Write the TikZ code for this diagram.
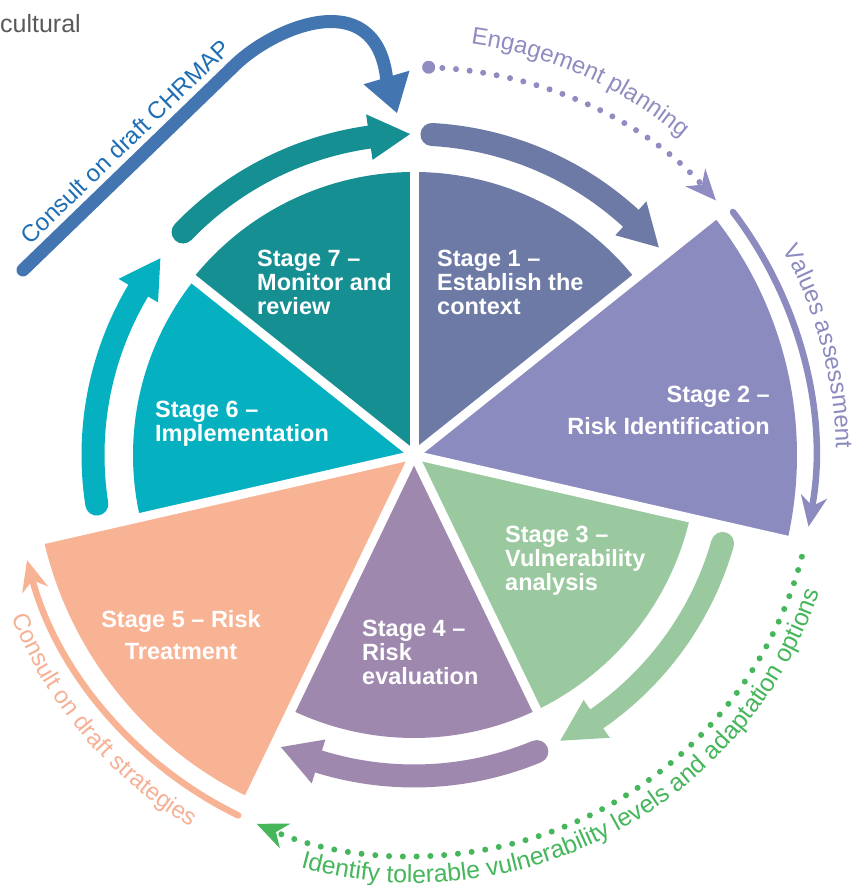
\documentclass[tikz,border=0pt]{standalone}
\usepackage{fontspec}
\setmainfont{Liberation Sans}
\usetikzlibrary{arrows.meta,decorations.text}
\definecolor{sone}{HTML}{6E7AA6}
\definecolor{stwo}{HTML}{8B8BBF}
\definecolor{sthree}{HTML}{9BC99F}
\definecolor{sfour}{HTML}{9E88AE}
\definecolor{sfive}{HTML}{F8B394}
\definecolor{ssix}{HTML}{05B0C1}
\definecolor{sseven}{HTML}{168F93}
\definecolor{bluearr}{HTML}{4375B0}
\definecolor{bluetxt}{HTML}{1D6EB4}
\definecolor{engage}{HTML}{8F8CC1}
\definecolor{greendot}{HTML}{45B65A}
\definecolor{salmontxt}{HTML}{F6B095}
\definecolor{graytxt}{HTML}{58595B}
\newcommand\stagefont{\fontsize{23.5}{24}\selectfont\bfseries}
\newcommand\stagefontwide{\fontsize{23.5}{32.5}\selectfont\bfseries}
\newcommand\outerfont{\fontsize{24}{28}\selectfont}
\newcommand\wheelarrow[4]{%
  \draw[#1, line width=23pt, line cap=round] (#2:321) arc[start angle=#2, end angle=#3, radius=321];
  \fill[#1] (#3:298) -- (#3:344) -- (#4:321) -- cycle;}
\tikzset{
  stagelabel/.style={text=white, inner sep=0pt, font=\stagefont},
  thinarc/.style={line width=6.5pt, line cap=round},
  dotarc/.style={line width=6pt, line cap=round, dash pattern=on 0pt off 13.7pt},
  barb/.style={-{Stealth[length=31pt,width=27pt,inset=10pt,line width=0pt]}}
}
\begin{document}
\begin{tikzpicture}[x=1pt,y=1pt]
\useasboundingbox (0,0) rectangle (861,885);
\clip (0,0) rectangle (861,885);
\fill[white] (0,0) rectangle (861,885);

% top-left cut text
\node[anchor=base west, inner sep=0pt, text=graytxt, font=\fontsize{25}{30}\selectfont] (cult) at (0,852) {cultural};

\begin{scope}[shift={(414,430)}]
  % wedges
  \fill[sone]   (0,0) -- (90:283) arc[start angle=90, end angle=38.571, radius=283] -- cycle;
  \fill[stwo]   (0,0) -- (38.571:383) arc[start angle=38.571, end angle=-12.857, radius=383] -- cycle;
  \fill[sthree] (0,0) -- (-12.857:283) arc[start angle=-12.857, end angle=-64.286, radius=283] -- cycle;
  \fill[sfour]  (0,0) -- (-64.286:283) arc[start angle=-64.286, end angle=-115.714, radius=283] -- cycle;
  \fill[sfive]  (0,0) -- (-115.714:380) arc[start angle=-115.714, end angle=-167.143, radius=380] -- cycle;
  \fill[ssix]   (0,0) -- (-167.143:281) arc[start angle=-167.143, end angle=-218.571, radius=281] -- cycle;
  \fill[sseven] (0,0) -- (141.429:283) arc[start angle=141.429, end angle=90, radius=283] -- cycle;
  % gaps
  \foreach \a in {90,38.571,-12.857,-64.286,-115.714,-167.143,141.429}
    \draw[white, line width=9pt] (0,0) -- (\a:392);

  % thick arrows
  \wheelarrow{sone}{86.8}{47.5}{40.3}
  \wheelarrow{sseven}{136}{98}{90.7}
  \wheelarrow{ssix}{188.8}{149.2}{142.2}
  \wheelarrow{sthree}{-16}{-55.3}{-62.9}
  \wheelarrow{sfour}{-67.5}{-107.3}{-114.5}

  % thin arcs
  \draw[stwo, thinarc, barb] (37.3:401) arc[start angle=37.3, end angle=-10.3, radius=401];
  \draw[sfive, thinarc, barb] (-116:401) arc[start angle=-116, end angle=-164.8, radius=401];

  % dotted arcs
  \fill[engage] (14.66,387.74) circle[radius=6.5];
  \draw[engage, dotarc, barb] (14.66,387.74) arc[start angle=87.9, end angle=41, x radius=400, y radius=388];
  \draw[greendot, dotarc, dash pattern=on 0pt off 13.8pt, barb] (-14.7:401) arc[start angle=-14.7, end angle=-113.1, radius=401];

  % curved texts
  \path[decorate, decoration={text along path, text align=center,
      text={|\outerfont\color{engage}|Engagement planning}}]
      (100:415) arc[start angle=100, end angle=32, radius=415];
  \path[decorate, decoration={text along path, text align=center,
      text={|\outerfont\color{stwo}|Values assessment}}]
      (40:422) arc[start angle=40, end angle=-10, radius=422];
  \path[decorate, decoration={text along path, text align=center,
      text={|\fontsize{24.8}{28}\selectfont\color{greendot}|Identify tolerable vulnerability levels and adaptation options}}]
      (-125:428) arc[start angle=-125, end angle=1, radius=428];
  \path[decorate, decoration={text along path, text align=center,
      text={|\outerfont\color{salmontxt}|Consult on draft strategies}}]
      (-175:434) arc[start angle=-175, end angle=-104, radius=434];
\end{scope}

% blue CHRMAP arrow
\coordinate (bstart) at (23,615);
\coordinate (bbend) at (235,820);
\coordinate (bend) at (386.5,807.5);
\draw[bluearr, line width=13pt, line cap=round] (bstart) -- (bbend) .. controls (275,858.6) and (375,900) .. (bend);
\fill[bluearr] (363.5,800.7) -- (409.5,814.3) -- (397,772) -- cycle;
\node[rotate=44, anchor=base, text=bluetxt, font=\outerfont, inner sep=0pt] (chrmap) at (131,737) {Consult on draft CHRMAP};

% stage labels (anchor = baseline of last line)
\node[stagelabel, anchor=base west, align=left] (st1) at (437,570) {Stage 1 –\\Establish the\\context};
\node[stagelabel, font=\stagefontwide, anchor=base east, align=right] (st2) at (770,450) {Stage 2 –\\Risk Identification};
\node[stagelabel, anchor=base west, align=left] (st3) at (505,294) {Stage 3 –\\Vulnerability\\analysis};
\node[stagelabel, anchor=base west, align=left] (st4) at (362,200) {Stage 4 –\\Risk\\evaluation};
\node[stagelabel, font=\stagefontwide, anchor=base, align=center] (st5) at (181,225) {Stage 5 – Risk\\Treatment};
\node[stagelabel, anchor=base west, align=left] (st6) at (155,443) {Stage 6 –\\Implementation};
\node[stagelabel, anchor=base west, align=left] (st7) at (257,570) {Stage 7 –\\Monitor and\\review};
\end{tikzpicture}
\end{document}
